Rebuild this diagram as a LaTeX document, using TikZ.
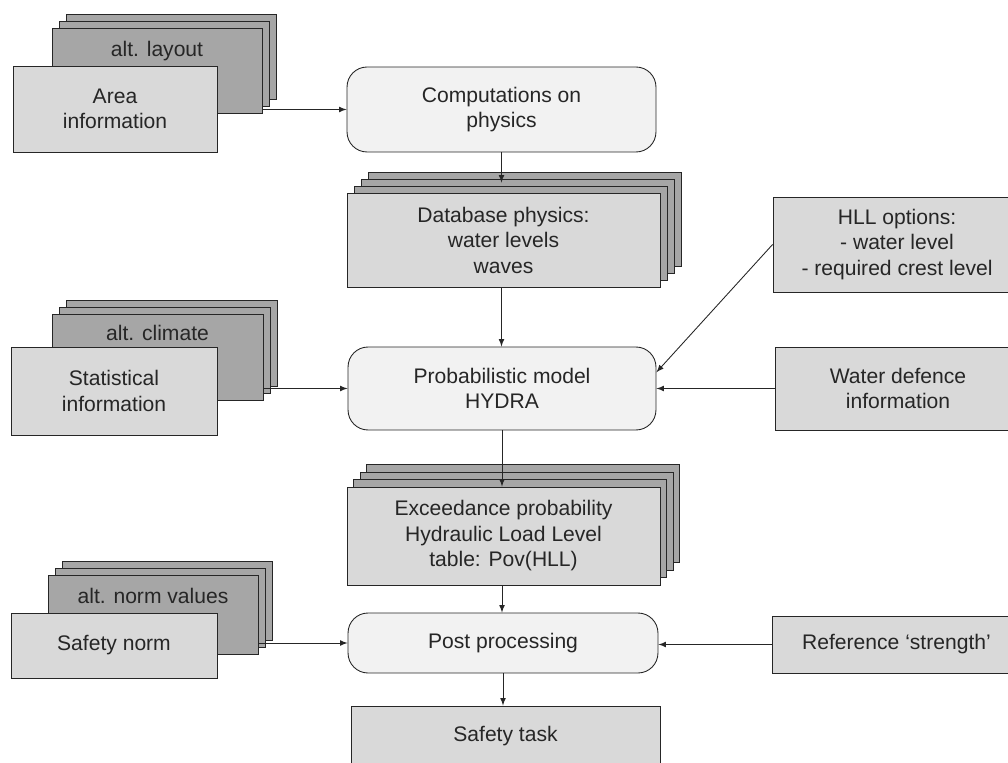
\documentclass[tikz,border=0pt]{standalone}
\usepackage{fontspec}
\setmainfont{Liberation Sans}
\usetikzlibrary{positioning,calc,arrows}

\begin{document}
\begin{tikzpicture}[x=0.02cm,y=-0.02cm,
	txt/.style={font=\fontsize{12}{14.5}\selectfont,align=center,text=black!85},
	layer/.style={draw=black!85,fill=gray!70,line width=0.5pt},
	infobox/.style={txt,draw=black!85,fill=gray!30,line width=0.5pt},
	procbox/.style={txt,draw=black!85,fill=gray!10,rounded corners=0.4cm,line width=0.5pt},
	flow/.style={-latex,black!85,line width=0.5pt}]
		\useasboundingbox (0,0) rectangle (1008,763);
		% inputs with alternatives (left)
		\foreach \k in {3,2,1}
		\node[layer,minimum width=4.2cm,minimum height=1.7cm] (layout\k) at ({150+7*\k},{77.5-7*\k}) {};
		\node[txt,below=0.14cm of layout1.north] (layouttxt) {alt. layout};
		\node[infobox,minimum width=4.08cm,minimum height=1.72cm] (area) at (115,109) {Area\\information};
		\foreach \k in {3,2,1}
		\node[layer,minimum width=4.22cm,minimum height=1.72cm] (climate\k) at ({150.5+7*\k},{364-7*\k}) {};
		\node[txt,below=0.1cm of climate1.north] (climatetxt) {alt. climate};
		\node[infobox,minimum width=4.12cm,minimum height=1.76cm] (stats) at (114,391) {Statistical\\information};
		\foreach \k in {3,2,1}
		\node[layer,minimum width=4.2cm,minimum height=1.58cm] (norm\k) at ({146+7*\k},{621.5-7*\k}) {};
		\node[txt,below=0.14cm of norm1.north] (normtxt) {alt. norm values};
		\node[infobox,minimum width=4.12cm,minimum height=1.3cm] (safety) at (114,645.5) {Safety norm};
		% main chain
		\node[procbox,minimum width=6.18cm,minimum height=1.7cm] (comp) at (501.5,109.5) {Computations on\\physics};
		\foreach \k in {3,2,1}
		\node[layer,minimum width=6.26cm,minimum height=1.88cm] (db\k) at ({503.5+7*\k},{240-7*\k}) {};
		\node[infobox,minimum width=6.26cm,minimum height=1.88cm] (db) at (503.5,240) {Database physics:\\water levels\\waves};
		\node[procbox,minimum width=6.16cm,minimum height=1.66cm] (prob) at (502,388.5) {Probabilistic model\\HYDRA};
		\foreach \k in {3,2,1}
		\node[layer,minimum width=6.26cm,minimum height=1.96cm] (exc\k) at ({503.5+6.5*\k},{536-7.5*\k}) {};
		\node[infobox,minimum width=6.26cm,minimum height=1.96cm] (exc) at (503.5,536) {Exceedance probability\\Hydraulic Load Level\\table: Pov(HLL)};
		\node[procbox,minimum width=6.2cm,minimum height=1.2cm] (post) at (503,643) {Post processing};
		\node[infobox,minimum width=6.18cm,minimum height=1.2cm] (task) at (505.5,736) {Safety task};
		% inputs (right)
		\node[infobox,minimum width=4.96cm,minimum height=1.9cm] (hll) at (897,244.5) {HLL options:\\- water level\\- required crest level};
		\node[infobox,minimum width=4.92cm,minimum height=1.66cm] (wdef) at (898,388.5) {Water defence\\information};
		\node[infobox,minimum width=4.98cm,minimum height=1.14cm] (ref) at (896.5,644.5) {Reference ‘strength’};
		% connectors
		\draw[flow] (layout1.east |- comp.west) -- (comp.west);
		\draw[flow,shorten >=0.2cm] (comp.south) -- (comp.south |- db.north);
		\draw[flow] (comp.south |- db.south) -- (comp.south |- prob.north);
		\draw[flow] (climate1.east |- prob.west) -- (prob.west);
		\draw[flow] (hll.west) -- (prob.6);
		\draw[flow] (wdef.west) -- (prob.east);
		\draw[flow] (prob.south) -- (prob.south |- exc.north);
		\draw[flow] (prob.south |- exc.south) -- (prob.south |- post.north);
		\draw[flow] (norm1.east |- post.west) -- (post.west);
		\draw[flow] (ref.west) -- (ref.west -| post.east);
		\draw[flow] (post.south) -- (post.south |- task.north);
	\end{tikzpicture}
\end{document}
